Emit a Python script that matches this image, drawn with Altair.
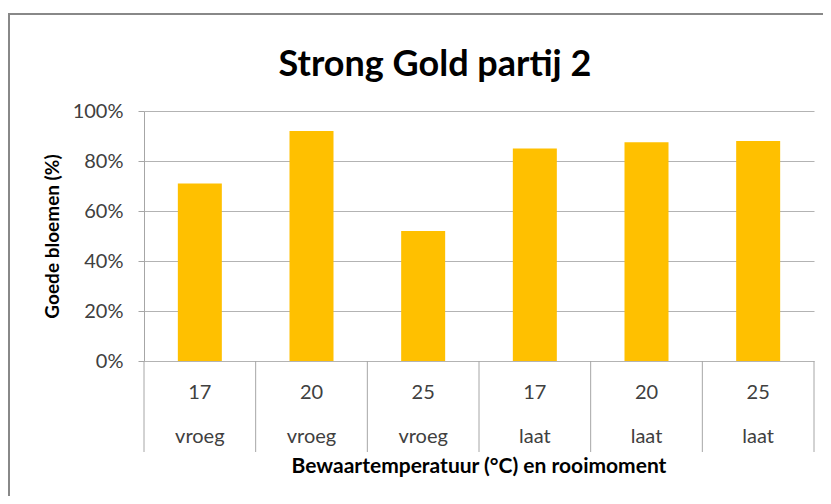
import altair as alt
import pandas as pd

temps = ["17", "20", "25", "17", "20", "25"]
moments = ["vroeg", "vroeg", "vroeg", "laat", "laat", "laat"]
values = [0.71, 0.92, 0.52, 0.85, 0.875, 0.88]
y_ticks = [0, 0.2, 0.4, 0.6, 0.8, 1.0]
title_text = "Strong Gold partij 2"
y_title = "Goede bloemen (%)"
x_title = "Bewaartemperatuur (°C) en rooimoment"

df = pd.DataFrame({
    "pos": [i + 0.5 for i in range(len(values))],
    "temp": temps,
    "moment": moments,
    "value": values,
})
seps = pd.DataFrame({"sep": list(range(len(values) + 1))})

FONT = "Lato"
W, H = 670, 250
x_scale = alt.Scale(domain=[0, len(values)], nice=False, zero=False, padding=0)
y_scale = alt.Scale(domain=[0, 1], nice=False)

bars = alt.Chart(df).mark_bar(color="#FFC000", size=44).encode(
    x=alt.X("pos:Q", scale=x_scale, axis=None),
    y=alt.Y(
        "value:Q",
        scale=y_scale,
        axis=alt.Axis(
            values=y_ticks,
            format="%",
            title=y_title,
            grid=True,
            gridColor="#B3B3B3",
            domainColor="#A6A6A6",
            tickColor="#A6A6A6",
            tickSize=6,
            labelPadding=15,
            labelFont=FONT,
            labelFontSize=20,
            labelColor="#404040",
            titleFont=FONT,
            titleFontSize=19,
            titleFontWeight="bold",
            titleColor="#000000",
            titlePadding=10,
        ),
    ),
)

sep_rules = alt.Chart(seps).mark_rule(color="#A6A6A6", strokeWidth=1).encode(
    x=alt.X("sep:Q", scale=x_scale, axis=None),
    y=alt.value(H),
    y2=alt.value(H + 91),
)

temp_text = alt.Chart(df).mark_text(font=FONT, fontSize=20, color="#404040", baseline="middle").encode(
    x=alt.X("pos:Q", scale=x_scale, axis=None),
    y=alt.value(H + 32),
    text="temp:N",
)

moment_text = alt.Chart(df).mark_text(font=FONT, fontSize=20, color="#404040", baseline="middle").encode(
    x=alt.X("pos:Q", scale=x_scale, axis=None),
    y=alt.value(H + 76),
    text="moment:N",
)

title = alt.Chart(pd.DataFrame({"t": [title_text]})).mark_text(
    font=FONT, fontSize=36, fontWeight="bold", color="#000000", baseline="middle"
).encode(x=alt.value(291), y=alt.value(-46), text="t:N")

xtitle = alt.Chart(pd.DataFrame({"t": [x_title]})).mark_text(
    font=FONT, fontSize=21, fontWeight="bold", color="#000000", baseline="middle"
).encode(x=alt.value(W / 2), y=alt.value(H + 106), text="t:N")

border_left = alt.Chart(pd.DataFrame({"a": [0]})).mark_rule(color="#888888", strokeWidth=2).encode(
    x=alt.value(-135), y=alt.value(-98), y2=alt.value(420)
)
border_top = alt.Chart(pd.DataFrame({"a": [0]})).mark_rule(color="#888888", strokeWidth=2).encode(
    x=alt.value(-136), x2=alt.value(720), y=alt.value(-97)
)

chart = alt.layer(
    bars, sep_rules, temp_text, moment_text, title, xtitle, border_left, border_top
).properties(
    width=W,
    height=H,
    autosize=alt.AutoSizeParams(type="none"),
    padding={"left": 136, "top": 103, "right": 9, "bottom": 135},
    background="#FFFFFF",
).configure_view(stroke=None)

chart.save("out.html", embed_options={"renderer": "svg", "actions": False})
